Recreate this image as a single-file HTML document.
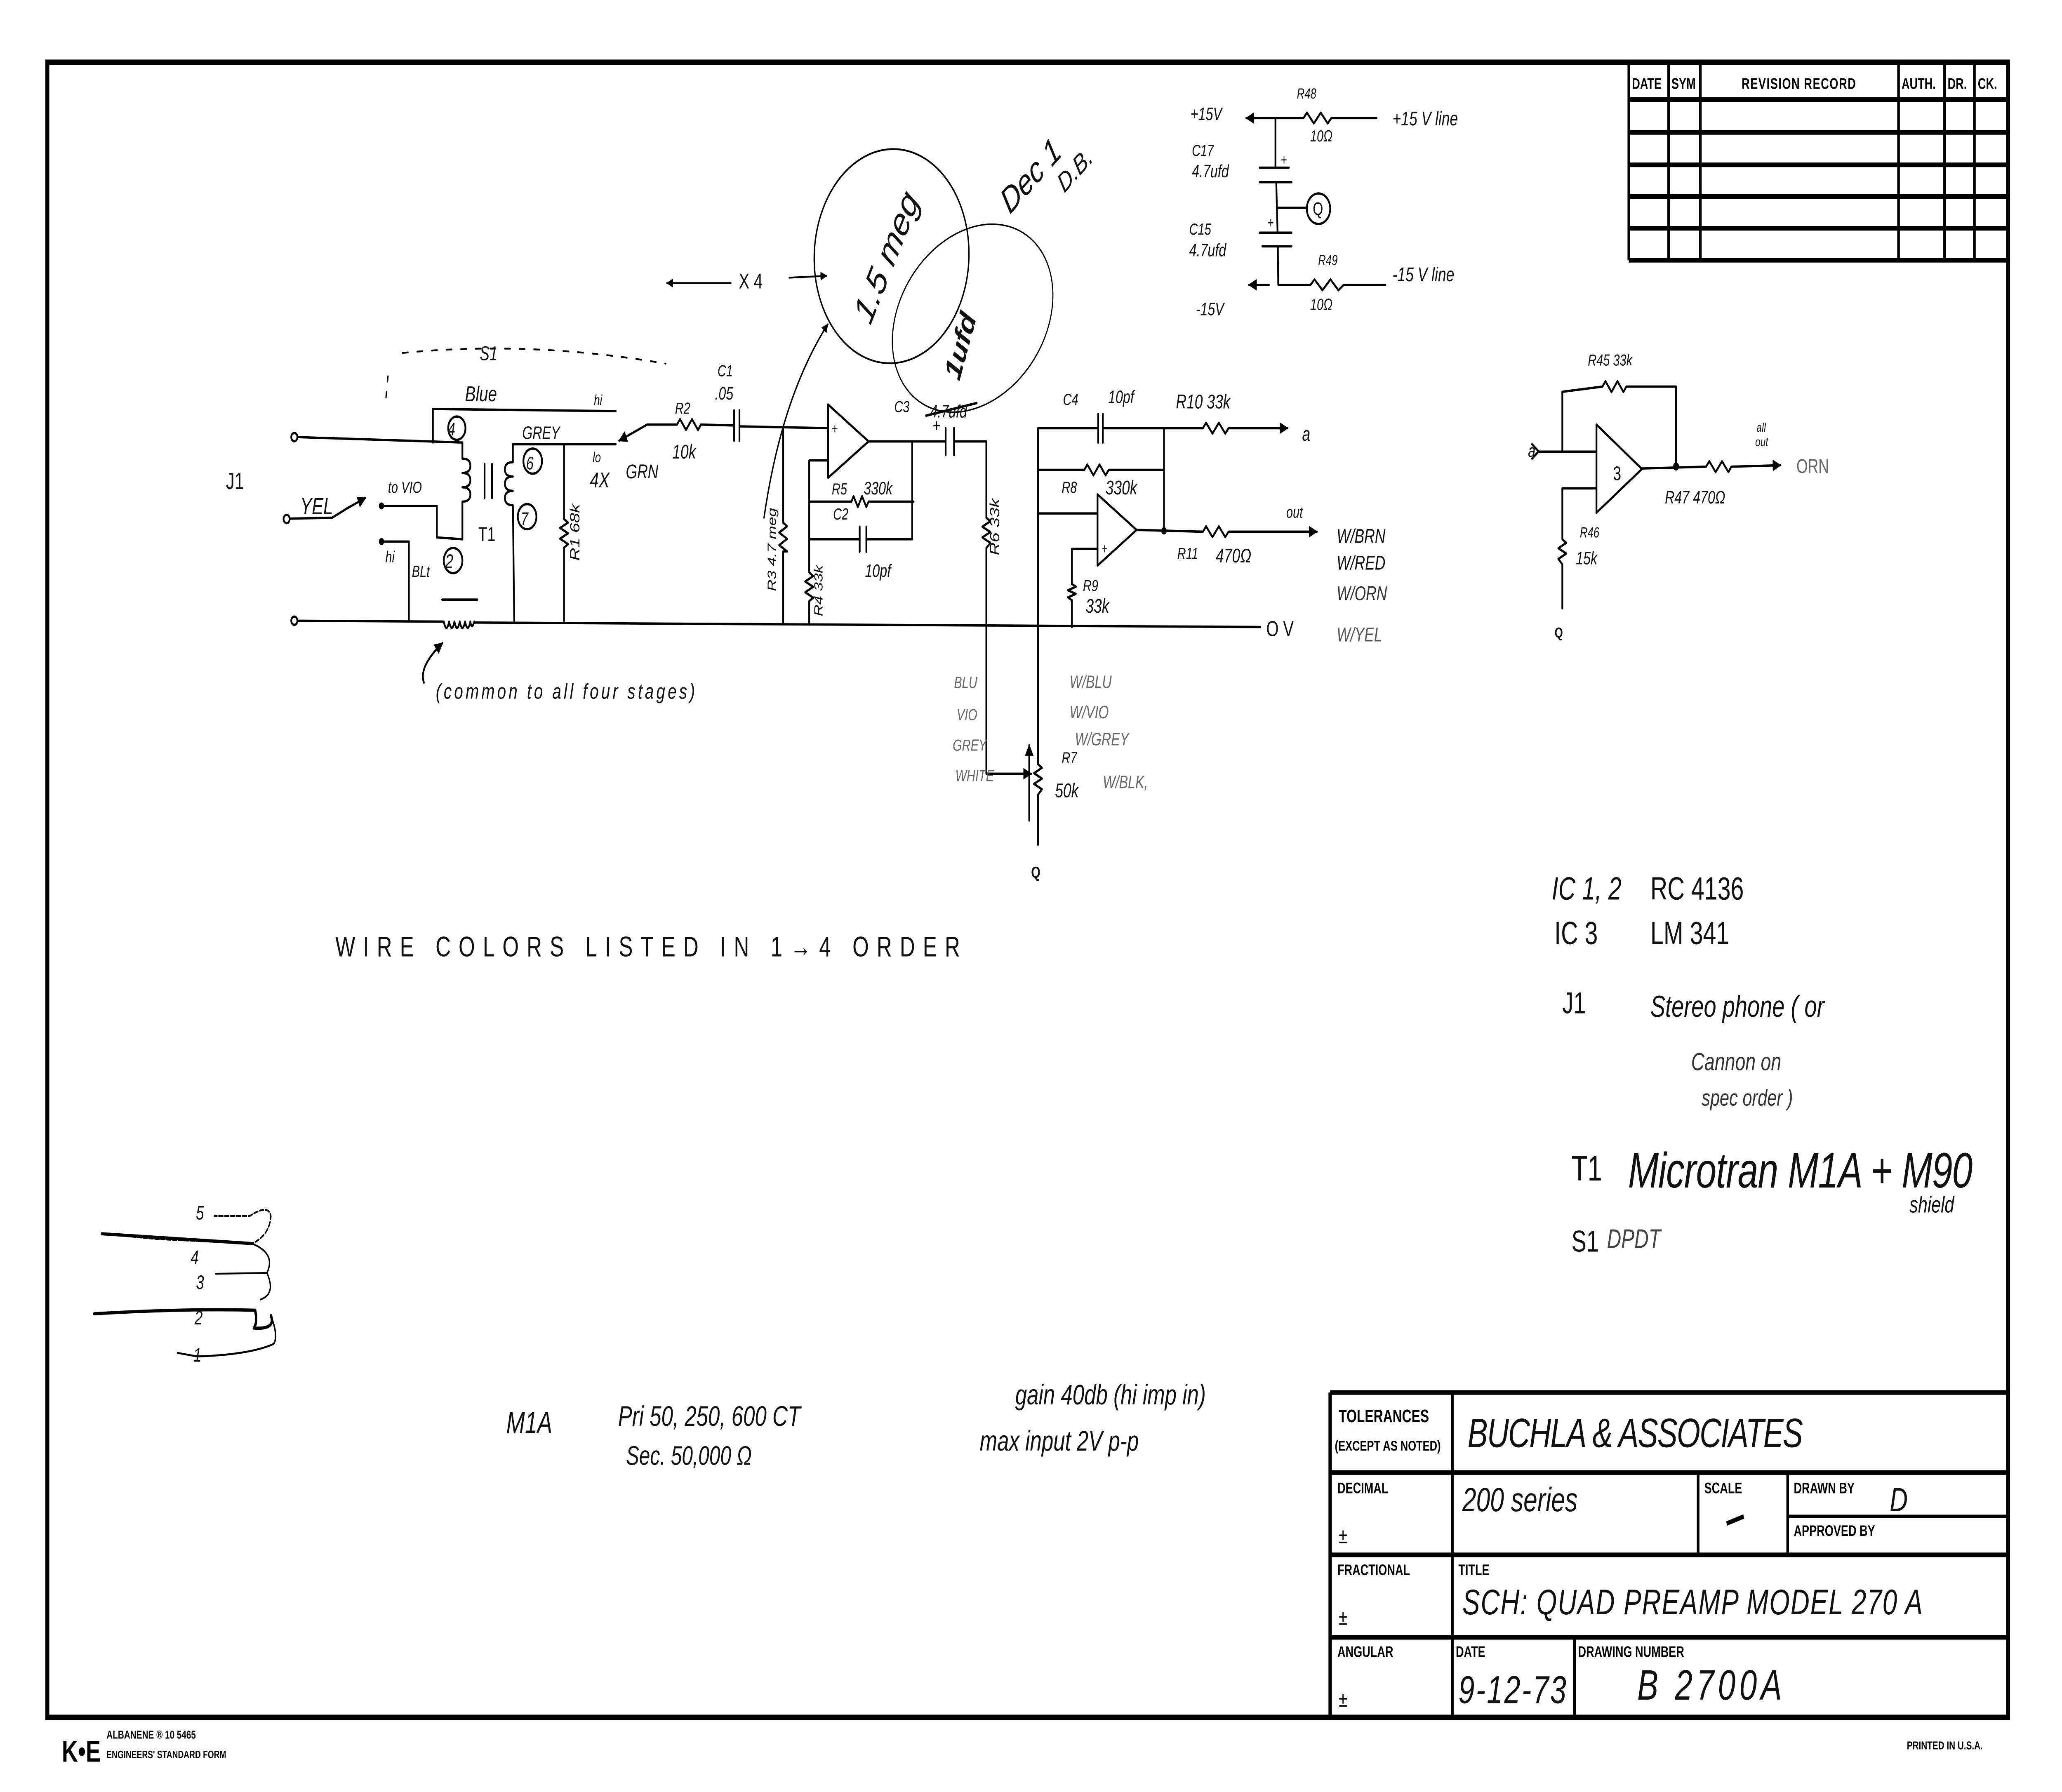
<!DOCTYPE html>
<html><head><meta charset="utf-8"><style>
html,body{margin:0;padding:0;background:#fff;width:100%;height:100%;overflow:hidden}
svg{display:block;position:absolute;left:0;top:0;width:100vw;height:100vh}
.w{fill:none;stroke:#000;stroke-width:1.3;stroke-linecap:round;stroke-linejoin:round}
.h{font-family:"Liberation Sans",sans-serif;font-style:italic;fill:#111}
.p{font-family:"Liberation Sans",sans-serif;font-weight:bold;fill:#000}
.f{font-family:"Liberation Sans",sans-serif;font-style:italic;fill:#666}
</style></head><body>
<svg viewBox="0 0 1568 1008" preserveAspectRatio="none" xmlns="http://www.w3.org/2000/svg">
<defs><marker id="ar" viewBox="0 0 10 10" refX="9" refY="5" markerWidth="5" markerHeight="5" orient="auto"><path d="M0,0 L10,5 L0,10 z" fill="#000"/></marker></defs>
<rect x="0" y="0" width="1568" height="1008" fill="#fff"/>
<rect x="36" y="35" width="1491" height="931" fill="none" stroke="#000" stroke-width="3"/>
<g fill="none" stroke="#000" stroke-width="2">
<line x1="1238.6" y1="35" x2="1238.6" y2="146.4"/><line x1="1268.9" y1="35" x2="1268.9" y2="146.4"/>
<line x1="1293" y1="35" x2="1293" y2="146.4"/><line x1="1443.7" y1="35" x2="1443.7" y2="146.4"/>
<line x1="1478.7" y1="35" x2="1478.7" y2="146.4"/><line x1="1501.4" y1="35" x2="1501.4" y2="146.4"/>
<line x1="1238.6" y1="56" x2="1527" y2="56" stroke-width="2.6"/><line x1="1238.6" y1="74.5" x2="1527" y2="74.5" stroke-width="2.6"/>
<line x1="1238.6" y1="92.7" x2="1527" y2="92.7" stroke-width="2.6"/><line x1="1238.6" y1="110.5" x2="1527" y2="110.5" stroke-width="2.6"/>
<line x1="1238.6" y1="128.4" x2="1527" y2="128.4" stroke-width="2.6"/><line x1="1238.6" y1="146.4" x2="1527" y2="146.4" stroke-width="2.6"/>
</g>
<g class="p" font-size="8.5">
<text x="1241" y="50">DATE</text><text x="1271" y="50">SYM</text>
<text x="1368" y="50" text-anchor="middle" letter-spacing="0.5">REVISION RECORD</text>
<text x="1446" y="50">AUTH.</text><text x="1481" y="50">DR.</text><text x="1504" y="50">CK.</text>
</g>
<g fill="none" stroke="#000" stroke-width="2.6">
<line x1="1011.5" y1="783.3" x2="1527" y2="783.3"/>
<line x1="1011.5" y1="783.3" x2="1011.5" y2="966"/>
<line x1="1104.4" y1="783.3" x2="1104.4" y2="966" stroke-width="2"/>
<line x1="1011.5" y1="828.3" x2="1527" y2="828.3"/>
<line x1="1011.5" y1="874.6" x2="1527" y2="874.6"/>
<line x1="1011.5" y1="921" x2="1527" y2="921"/>
<line x1="1291.3" y1="828.3" x2="1291.3" y2="874.6" stroke-width="2"/>
<line x1="1359.4" y1="828.3" x2="1359.4" y2="874.6" stroke-width="2"/>
<line x1="1359.4" y1="853" x2="1527" y2="853" stroke-width="2"/>
<line x1="1197.3" y1="921" x2="1197.3" y2="966" stroke-width="2"/>
</g>
<g class="p">
<text x="1018" y="800" font-size="10">TOLERANCES</text>
<text x="1015" y="816" font-size="8">(EXCEPT AS NOTED)</text>
<text x="1017" y="840" font-size="8.5">DECIMAL</text><text x="1018" y="868" font-size="12" font-weight="normal">±</text>
<text x="1296" y="840" font-size="8.5">SCALE</text>
<text x="1364" y="840" font-size="8.5">DRAWN BY</text><text x="1364" y="864" font-size="8.5">APPROVED BY</text>
<text x="1017" y="886" font-size="8.5">FRACTIONAL</text><text x="1018" y="914" font-size="12" font-weight="normal">±</text>
<text x="1109" y="886" font-size="8.5">TITLE</text>
<text x="1017" y="932" font-size="8.5">ANGULAR</text><text x="1018" y="960" font-size="12" font-weight="normal">±</text>
<text x="1107" y="932" font-size="8.5">DATE</text><text x="1200" y="932" font-size="8.5">DRAWING NUMBER</text>
</g>
<g class="h" font-style="normal">
<text x="1116" y="814" font-size="23" textLength="255">BUCHLA &amp; ASSOCIATES</text>
<text x="1112" y="850" font-size="19" font-style="italic">200 series</text>
<line x1="1313" y1="857" x2="1326" y2="853" stroke="#000" stroke-width="2.5"/>
<text x="1437" y="850" font-size="19">D</text>
<text x="1112" y="908" font-size="20" textLength="350">SCH: QUAD PREAMP  MODEL 270 A</text>
<text x="1109" y="958" font-size="22" textLength="82">9-12-73</text>
<text x="1245" y="956" font-size="24" textLength="110">B 2700A</text>
</g>
<text x="1450" y="984" class="p" font-size="6.5" font-weight="normal">PRINTED IN U.S.A.</text>
<text x="47" y="991" class="p" font-size="17">K•E</text>
<text x="81" y="978" class="p" font-size="6.5" font-weight="normal">ALBANENE ® 10 5465</text>
<text x="81" y="989" class="p" font-size="6">ENGINEERS' STANDARD FORM</text>

<g class="h">
<text x="255" y="538" font-size="16" textLength="475" font-style="normal">WIRE COLORS LISTED IN 1→4 ORDER</text>
<text x="1180" y="506" font-size="18">IC 1, 2</text><text x="1255" y="506" font-size="18" font-style="normal">RC 4136</text>
<text x="1182" y="531" font-size="18" font-style="normal">IC 3</text><text x="1255" y="531" font-size="18" font-style="normal">LM 341</text>
<text x="1188" y="570" font-size="17" font-style="normal">J1</text><text x="1255" y="572" font-size="17">Stereo phone ( or</text>
<text x="1286" y="602" font-size="14" fill="#333">Cannon  on</text>
<text x="1294" y="622" font-size="13" fill="#333">spec order )</text>
<text x="1195" y="664" font-size="20" font-style="normal">T1</text>
<text x="1238" y="668" font-size="28" textLength="262">Microtran  M1A + M90</text>
<text x="1452" y="682" font-size="13">shield</text>
<text x="1195" y="704" font-size="17" font-style="normal">S1</text><text x="1222" y="702" font-size="15" fill="#444">DPDT</text>
<text x="385" y="806" font-size="17">M1A</text>
<text x="470" y="802" font-size="16">Pri  50, 250, 600 CT</text>
<text x="476" y="824" font-size="15">Sec.  50,000 Ω</text>
<text x="772" y="790" font-size="16">gain  40db  (hi imp in)</text>
<text x="745" y="816" font-size="16">max input  2V p-p</text>
</g>
<g class="w">
<path d="M77.5,694 L120,697 L191.6,699.5 Q205,695 206,684 Q204,677 190,684 L163,684" stroke-dasharray="3,1.5" stroke-width="1"/>
<path d="M77.5,694 L191.6,699.5" stroke-width="1.8"/>
<path d="M191.6,699.5 Q210,705 203,716 L164,716.5" stroke-width="1"/>
<path d="M203,716 Q210,728 198,731" stroke-width="1"/>
<path d="M71.6,739 Q140,736 194,737 Q196,744 193,747 Q210,748 206,740" stroke-width="1.8"/>
<path d="M206,740 Q212,752 208,756 Q190,762 150,763 L135,761" stroke-width="1.1"/>
</g>
<g class="h" font-size="11" font-style="normal"><text x="149" y="686">5</text><text x="145" y="711">4</text><text x="149" y="725">3</text><text x="148" y="745">2</text><text x="147" y="766">1</text></g>

<g transform="scale(1.0104,1.0077)">
<g class="w">
<circle cx="221.5" cy="244" r="2.3"/><circle cx="215.7" cy="289.7" r="2.3"/><circle cx="221.5" cy="346.5" r="2.3"/>
<path d="M224,244 L348,247"/>
<path d="M325.8,247 L325.8,228.3 L463.4,229.5"/>
<circle cx="343.8" cy="239" r="6.5"/>
<path d="M348,247 L348,256 q6,0 6,4 q0,4 -6,4 q6,0 6,4 q0,4 -6,4 q6,0 6,4 q0,4 -6,4 L348,301 L328.8,300 L328.8,282.4 L287.1,282.4"/>
<circle cx="287.1" cy="282.4" r="1.3" fill="#000"/>
<path d="M218,289.5 L250,289 L261.8,283.5"/>
<path d="M261.8,283.5 L275,278" marker-end="url(#ar)"/>
<line x1="364.7" y1="259" x2="364.7" y2="278"/><line x1="370.3" y1="259" x2="370.3" y2="278"/>
<circle cx="341" cy="312.9" r="7"/>
<path d="M287.1,302.3 L307.7,302.3 L307.7,346.5"/>
<circle cx="287.1" cy="302.3" r="1.3" fill="#000"/>
<path d="M224,346.5 L334,347 M357,347.5 L948.4,350"/>
<path d="M334,347 q2,7 4,0 q2,7 4,0 q2,7 4,0 q2,7 4,0 q2,7 4,0 q1,5 3,0"/>
<line x1="332.8" y1="334.7" x2="359.3" y2="334.7"/>
<path d="M319,381 Q315,372 333,359" marker-end="url(#ar)"/>
<path d="M386,248 L463.4,248"/>
<path d="M386,248 L386,258 q-6,0 -6,4 q0,4 6,4 q-6,0 -6,4 q0,4 6,4 q-6,0 -6,4 q0,4 6,4 L387,346.5"/>
<circle cx="400.9" cy="257.4" r="7"/><circle cx="396.7" cy="288.4" r="7"/>
<path d="M424.5,248 L424.5,289.7 l3,2 l-6,3 l6,3 l-6,3 l6,3 l-3,2 L424.5,346.5"/>
<path d="M303,197 Q400,190 501,203" stroke-dasharray="4,7" stroke-width="1"/>
<path d="M292,210 L290,226" stroke-dasharray="3,6" stroke-width="1"/>
<path d="M487,237 L466,246" marker-end="url(#ar)"/>
<path d="M487,237 L509.5,237 L511.8,234 L516.3,240 L520.8,234 L525.3,240 L527.5,237 L552.5,237.5"/>
<line x1="552.5" y1="229" x2="552.5" y2="246"/><line x1="556.5" y1="229" x2="556.5" y2="246"/>
<path d="M556.5,238 L623.2,239"/>
<polygon points="623.2,225.8 623.2,266.7 653.7,246.4"/>
<path d="M623.2,257 L609,257 L609,319.6 l3,2 l-6,3 l6,3 l-6,3 l6,3 l-3,2 L609,348.7"/>
<path d="M589.4,239 L589.4,291.8 l3,2 l-6,3.5 l6,3.5 l-6,3.5 l6,3.5 l-3,0 L589.4,348.5"/>
<path d="M609,280 L640.8,280 l1.6,-3 l3.2,6 l3.2,-6 l3.2,6 l1.7,-3 L687.6,280"/>
<path d="M609,301 L647,301 M652,301 L686.5,301"/>
<line x1="647" y1="294" x2="647" y2="308"/><line x1="652" y1="294" x2="652" y2="308"/>
<path d="M653.7,246.4 L711.7,246.4 M686.5,246.4 L686.5,301"/>
<line x1="711.7" y1="239" x2="711.7" y2="254"/><line x1="718" y1="239" x2="718" y2="254"/>
<path d="M718,246.4 L742.3,246.4 L742.3,289 l3,2 l-6,3 l6,3 l-6,3 l6,3 l-3,3 L742.3,431.9 L776,431.9" marker-end="url(#ar)"/>
<path d="M774.6,458 L774.6,416" marker-end="url(#ar)"/>
<path d="M781.2,239 L781.2,426.6 l3,2 l-6,3 l6,3 l-6,3 l6,3 l-3,3 L781.2,471.5"/>
<path d="M781.2,239 L826.5,239 M830,239 L876,239 L876,296.8"/>
<line x1="826.5" y1="231" x2="826.5" y2="247"/><line x1="830" y1="231" x2="830" y2="247"/>
<path d="M781.2,262.3 L816,262.3 l2.3,-3 l4.6,6 l4.6,-6 l4.6,6 l2.3,-3 L876,262.3"/>
<path d="M876,239 L905.3,239 l2.4,-3 l4.8,6 l4.8,-6 l4.8,6 l2.5,-3 L969,239" marker-end="url(#ar)"/>
<polygon points="826,276 826,315.7 855.4,295.8"/>
<path d="M781.2,286.6 L826,286.6"/>
<path d="M826,306.4 L806.7,306.4 L806.7,326 l3,1.5 l-6,2 l6,2 l-6,2 l3,1.5 L806.7,350"/>
<path d="M855.4,295.8 L905.3,296.8 l2.4,-3 l4.8,6 l4.8,-6 l4.8,6 l2.5,-3 L991,296.8" marker-end="url(#ar)"/>
<circle cx="876" cy="296.3" r="1.4" fill="#000"/>
<path d="M938,65.9 L981,65.9 l2.6,-3 l5.2,6 l5.2,-6 l5.2,6 l2.8,-3 L1036,65.9"/>
<path d="M945,65.9 L938,65.9" marker-end="url(#ar)"/>
<path d="M959.9,65.9 L959.9,93.6 M948,93.6 L970,93.6 M948,101.7 L972,101.7 M960.5,101.7 L961.5,129.9 M961,116 L983.5,116 M948,129.9 L972,129.9 M950,137.5 L972,137.5 M961.7,137.5 L962,159 M962,159 L986.3,159 l3,-3 l6,6 l6,-6 l6,6 l4,-3 L1042.6,159"/>
<path d="M955,159 L940,159" marker-end="url(#ar)"/>
<ellipse cx="992.3" cy="116.5" rx="8.8" ry="8.5"/>
<polygon points="1201.5,237 1201.5,286.2 1235.7,261.8"/>
<path d="M1158,252.1 L1201.5,252.1"/>
<path d="M1153,248 L1158,252 L1153,256"/>
<path d="M1175.8,252.1 L1175.8,218.7 L1206,215.8 l2.3,-3 l4.5,6 l4.5,-6 l4.5,6 l2.2,-3 L1261.4,215.8 L1261.4,260.4"/>
<path d="M1201.5,272.6 L1175.8,272.6 L1175.8,301 l3,2 l-6,3 l6,3 l-6,3 l3,3 L1175.8,339.6"/>
<path d="M1235.7,261.5 L1284,260.5 l2.4,-3 l4.8,6 l4.8,-6 l4.8,6 l2.2,-3 L1340,259.7" marker-end="url(#ar)"/>
<circle cx="1261.4" cy="260.4" r="1.6" fill="#000"/>
<ellipse cx="671" cy="143" rx="58" ry="60" transform="rotate(20 671 143)" stroke-width="1"/>
<ellipse cx="732" cy="177.6" rx="64" ry="48" transform="rotate(-30 732 177.6)" stroke-width="0.8"/>
<path d="M575,289 Q588,222 623,181" marker-end="url(#ar)" stroke-width="1"/>
<path d="M550,158 L502,158" marker-end="url(#ar)" stroke-width="1"/>
<path d="M594,155 L622,154" marker-end="url(#ar)" stroke-width="1"/>
<line x1="697" y1="232" x2="735" y2="225" stroke-width="1.4"/>
</g>
<g class="h" font-size="10">
<text x="337" y="243" font-size="10">4</text><text x="335" y="317" font-size="11">2</text>
<text x="396" y="262" font-size="10">6</text><text x="392" y="293" font-size="10">7</text>
<text x="170" y="273" font-size="13" font-style="normal">J1</text>
<text x="226" y="287" font-size="13">YEL</text>
<text x="292" y="275" font-size="9">to VIO</text>
<text x="360" y="302" font-size="11" font-style="normal">T1</text>
<text x="290" y="314" font-size="9">hi</text>
<text x="310" y="322" font-size="9">BLt</text>
<text x="393" y="245" font-size="10">GREY</text>
<text transform="translate(436,313) rotate(-90)" font-size="10">R1 68k</text>
<text x="361" y="201" font-size="11">S1</text>
<text x="350" y="224" font-size="12">Blue</text>
<text x="447" y="226" font-size="8">hi</text>
<text x="446" y="258" font-size="8">lo</text>
<text x="444" y="272" font-size="12">4X</text><text x="471" y="267" font-size="11">GRN</text>
<text x="540" y="210" font-size="9">C1</text><text x="538" y="223" font-size="10">.05</text>
<text x="508" y="231" font-size="9">R2</text><text x="506" y="256" font-size="11">10k</text>
<text x="328" y="390" font-size="12" textLength="195">(common to all four stages)</text>
<text transform="translate(584,330) rotate(-90)" font-size="9">R3 4.7 meg</text>
<text transform="translate(619,344) rotate(-90)" font-size="9">R4 33k</text>
<text x="626" y="276" font-size="9">R5</text><text x="650" y="276" font-size="10">330k</text>
<text x="627" y="290" font-size="9">C2</text><text x="651" y="322" font-size="10">10pf</text>
<text x="673" y="230" font-size="9">C3</text><text x="700" y="233" font-size="10">4.7ufd</text>
<text x="702" y="241" font-size="10" font-style="normal">+</text>
<text x="626" y="242" font-size="8" font-style="normal">+</text>
<text x="829" y="309" font-size="8" font-style="normal">+</text>
<text transform="translate(752,310) rotate(-90)" font-size="10">R6 33k</text>
<text x="800" y="226" font-size="9">C4</text><text x="834" y="225" font-size="10">10pf</text>
<text x="885" y="228" font-size="11">R10 33k</text>
<text x="980" y="246" font-size="11">a</text>
<text x="799" y="275" font-size="9">R8</text><text x="832" y="276" font-size="11">330k</text>
<text x="815" y="330" font-size="9">R9</text><text x="817" y="342" font-size="11">33k</text>
<text x="968" y="289" font-size="9">out</text>
<text x="886" y="312" font-size="9">R11</text><text x="915" y="314" font-size="11">470Ω</text>
<text x="953" y="355" font-size="12" font-style="normal">O V</text>
<text x="1006" y="303" font-size="11">W/BRN</text><text x="1006" y="318" font-size="11">W/RED</text>
<text x="1006" y="335" font-size="11" fill="#333">W/ORN</text><text x="1006" y="358" font-size="11" fill="#555">W/YEL</text>
<text class="f" x="718" y="384" font-size="9">BLU</text><text class="f" x="720" y="402" font-size="9">VIO</text>
<text class="f" x="717" y="419" font-size="9">GREY</text><text class="f" x="719" y="436" font-size="9">WHITE</text>
<text class="f" x="805" y="384" font-size="10">W/BLU</text><text class="f" x="805" y="401" font-size="10">W/VIO</text>
<text class="f" x="809" y="416" font-size="10">W/GREY</text><text class="f" x="830" y="440" font-size="10">W/BLK,</text>
<text x="799" y="426" font-size="9">R7</text><text x="794" y="445" font-size="11">50k</text>
<text x="776" y="490" font-size="9" font-style="normal" font-weight="bold">Q</text>
<text transform="translate(655,182) rotate(-62)" font-size="22">1.5 meg</text>
<text transform="translate(722,213) rotate(-70)" font-size="18" font-weight="bold">1ufd</text>
<text transform="translate(760,120) rotate(-40)" font-size="20">Dec 1</text>
<text transform="translate(801,108) rotate(-40)" font-size="15">D.B.</text>
<text x="556" y="161" font-size="12" font-style="normal">X 4</text>
<text x="896" y="67" font-size="10">+15V</text><text x="976" y="55" font-size="8">R48</text>
<text x="986" y="79" font-size="9">10Ω</text><text x="1048" y="70" font-size="11">+15 V line</text>
<text x="897" y="87" font-size="9">C17</text><text x="897" y="99" font-size="10">4.7ufd</text>
<text x="895" y="131" font-size="9">C15</text><text x="895" y="143" font-size="10">4.7ufd</text>
<text x="964" y="92" font-size="8" font-style="normal">+</text><text x="954" y="127" font-size="8" font-style="normal">+</text>
<text x="988" y="120" font-size="10" font-style="normal">Q</text>
<text x="992" y="148" font-size="8">R49</text><text x="1048" y="157" font-size="11">-15 V line</text>
<text x="900" y="176" font-size="10">-15V</text><text x="986" y="173" font-size="9">10Ω</text>
<text x="1214" y="268" font-size="11" font-style="normal">3</text>
<text x="1150" y="255" font-size="10">a</text>
<text x="1195" y="204" font-size="9">R45 33k</text>
<text x="1322" y="241" font-size="7">all</text><text x="1321" y="249" font-size="7">out</text>
<text x="1352" y="264" font-size="11" fill="#666" font-style="normal">ORN</text>
<text x="1253" y="281" font-size="10">R47 470Ω</text>
<text x="1189" y="300" font-size="8">R46</text><text x="1186" y="315" font-size="10">15k</text>
<text x="1170" y="356" font-size="8" font-style="normal" font-weight="bold">Q</text>
</g>
</g>
</svg>
</body></html>
